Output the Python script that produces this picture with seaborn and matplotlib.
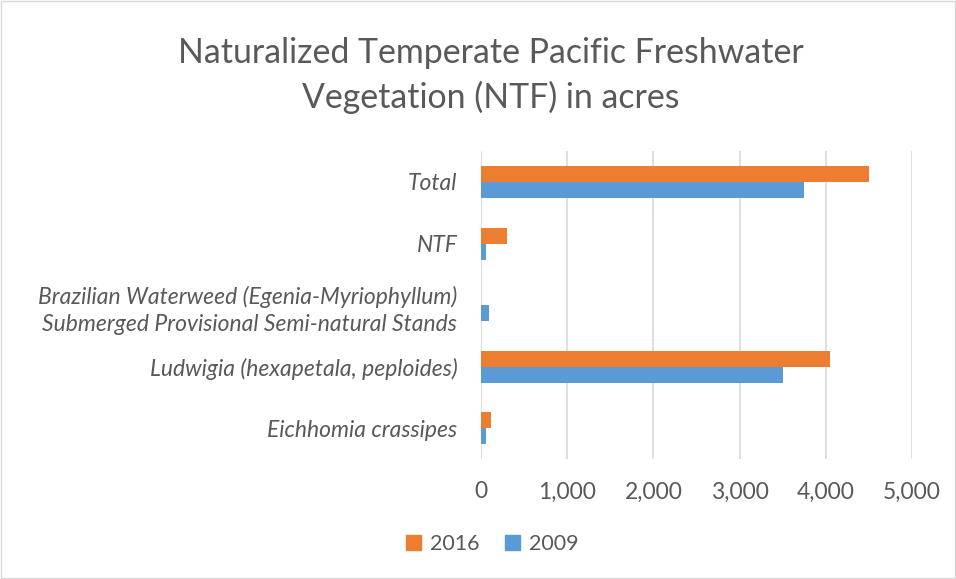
import numpy as np
import matplotlib.pyplot as plt
import matplotlib.patches as mpatches
import seaborn as sns
import pandas as pd

# Data (acres)
categories = ['Total',
              'NTF',
              'Brazilian Waterweed (Egenia-Myriophyllum)\nSubmerged Provisional Semi-natural Stands',
              'Ludwigia (hexapetala, peploides)',
              'Eichhomia crassipes']
acres_2016 = [4500, 300, 0, 4050, 120]
acres_2009 = [3750, 60, 100, 3500, 60]
years = ['2016', '2009']
x_ticks = [0, 1000, 2000, 3000, 4000, 5000]

colors = ['#ED7D31', '#5B9BD5']
sns.set_style('white')
plt.rcParams['font.family'] = ['Lato', 'DejaVu Sans']

df = pd.DataFrame({
    'category': categories * 2,
    'acres': acres_2016 + acres_2009,
    'year': [years[0]] * len(categories) + [years[1]] * len(categories),
})

fig = plt.figure(figsize=(9.56, 5.79), dpi=100)
ax = fig.add_axes([0.503, 0.207, 0.451, 0.532])

sns.barplot(data=df, y='category', x='acres', hue='year', hue_order=years,
            palette=colors, orient='h', width=0.52, order=categories, ax=ax,
            saturation=1, edgecolor='none')

ax.set_xlim(0, 5000)
ax.set_xticks(x_ticks)
ax.set_xticklabels([f'{t:,}' for t in x_ticks])
ax.set_xlabel('')
ax.set_ylabel('')
ax.grid(axis='x', color='#D9D9D9', linewidth=1.2)
ax.set_axisbelow(True)
for s in ax.spines.values():
    s.set_visible(False)
ax.tick_params(axis='both', length=0, colors='#595959')
ax.tick_params(axis='x', labelsize=16.5, pad=16)
for lbl in ax.get_yticklabels():
    lbl.set_fontstyle('italic')
    lbl.set_fontsize(16.5)
    lbl.set_horizontalalignment('right')
    lbl.set_multialignment('right')
    lbl.set_linespacing(1.4)
ax.tick_params(axis='y', pad=17)

ax.legend_.remove()
handles = [mpatches.Patch(color=c, label=y) for c, y in zip(colors, years)]
fig.legend(handles=handles, loc='center', bbox_to_anchor=(0.515, 0.06), ncol=2,
           frameon=False, fontsize=15.5, handlelength=0.7, handleheight=0.7,
           handletextpad=0.4, columnspacing=1.2, labelcolor='#595959')

fig.text(0.513, 0.87, 'Naturalized Temperate Pacific Freshwater\nVegetation (NTF) in acres',
         ha='center', va='center', fontsize=24.4, color='#595959', linespacing=1.45)

fig.patches.append(mpatches.Rectangle((0.001, 0.001), 0.998, 0.998, transform=fig.transFigure,
                                      fill=False, edgecolor='#D9D9D9', linewidth=1))

fig.savefig('out.png', dpi=100)
